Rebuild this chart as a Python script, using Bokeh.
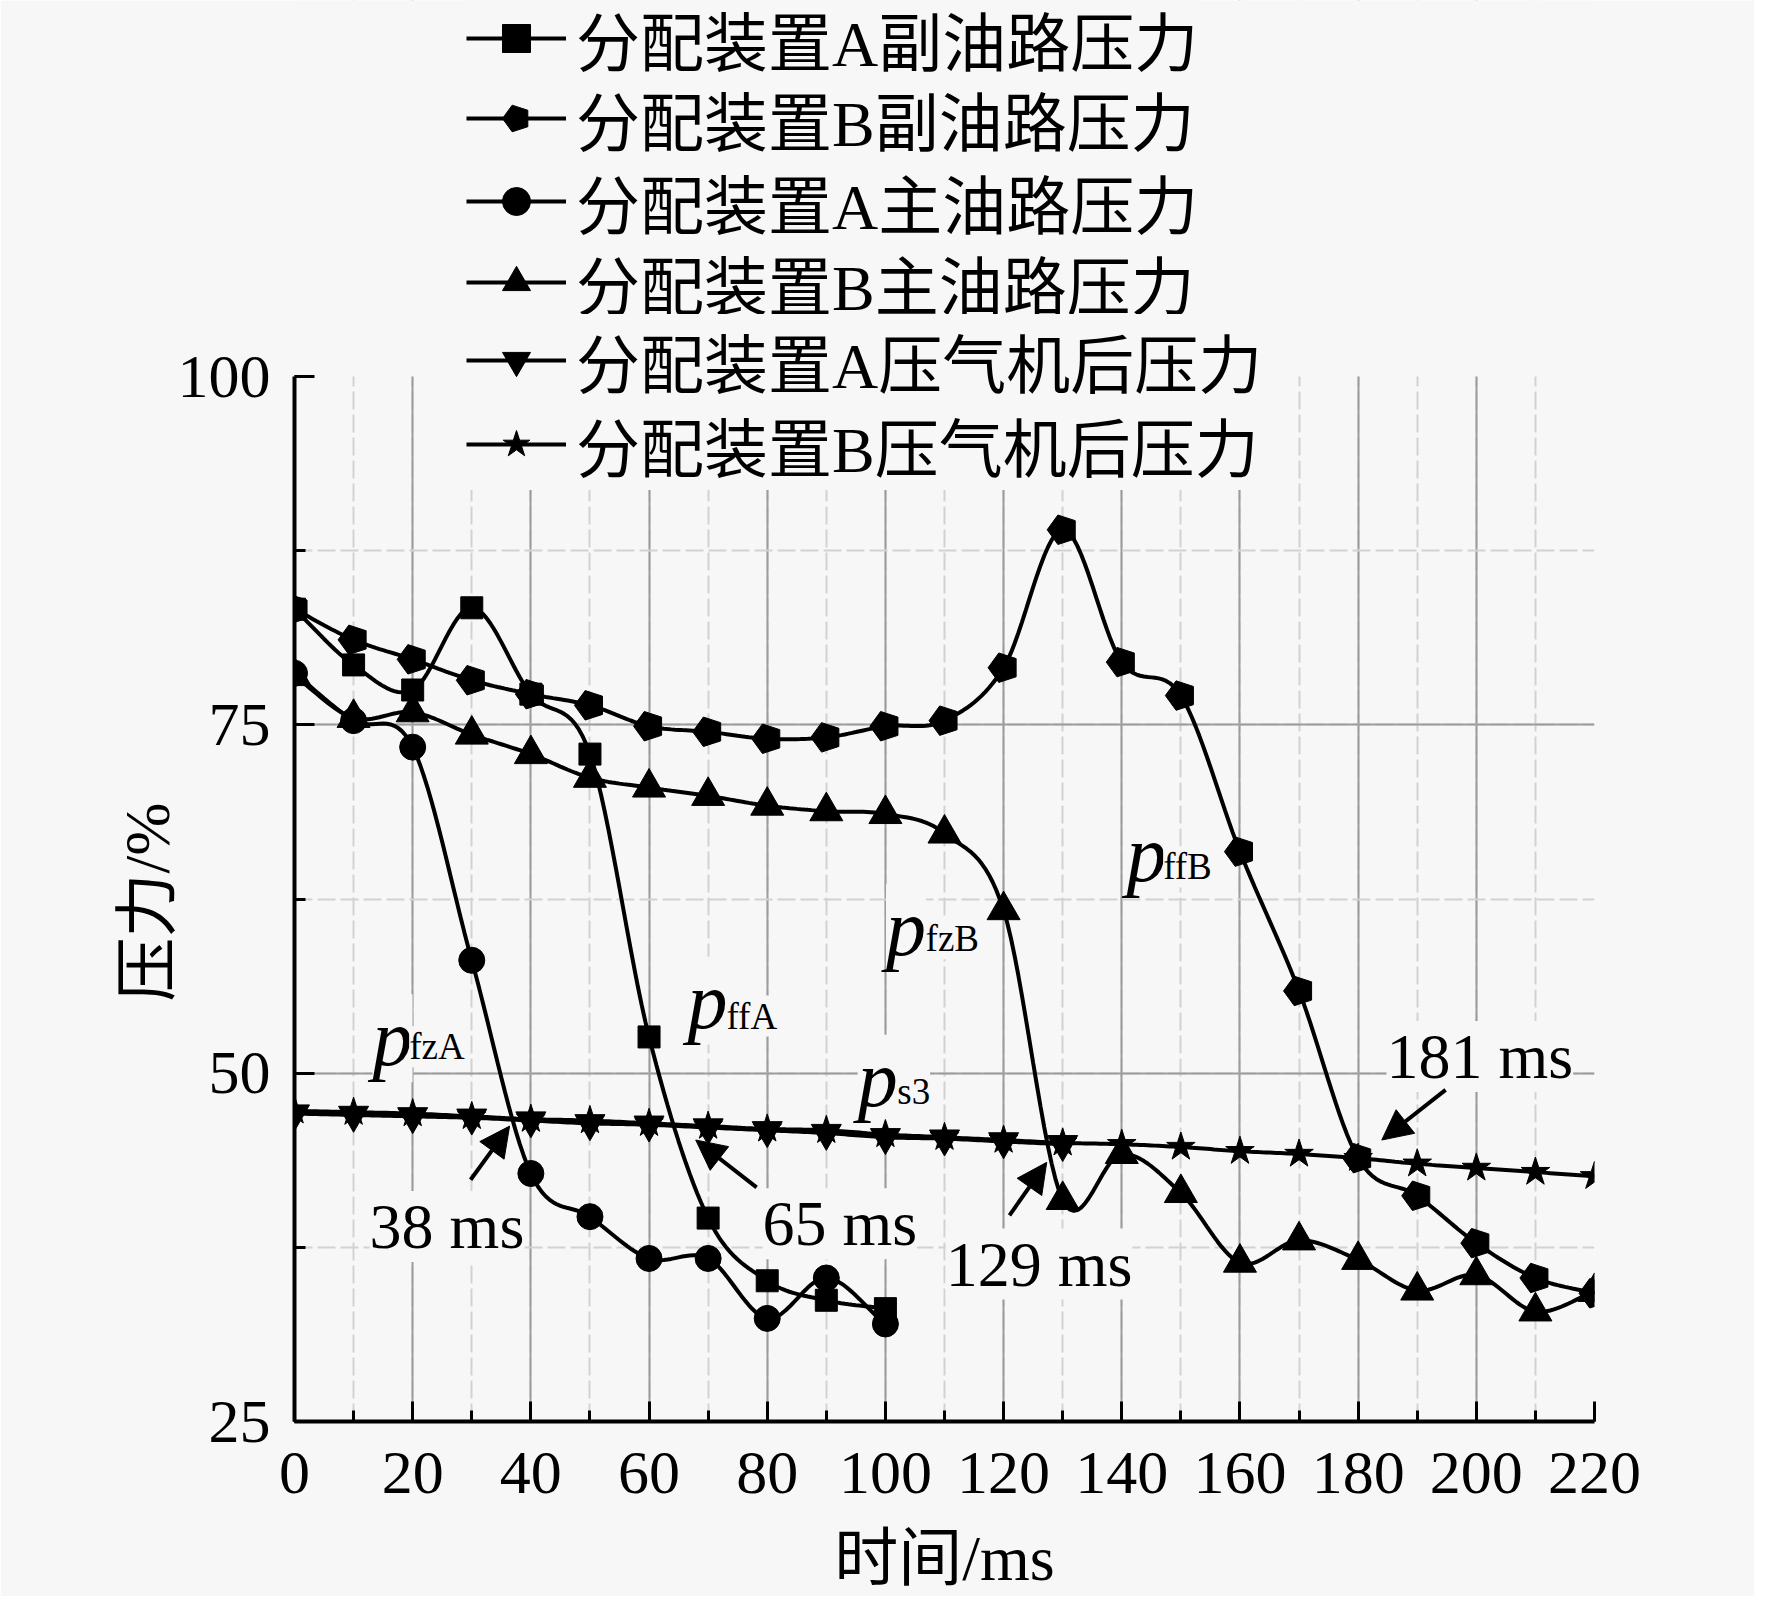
import numpy as np
from bokeh.plotting import figure
from bokeh.models import (Range1d, SingleIntervalTicker, Legend, LegendItem,
                          Label, Arrow, NormalHead, BoxAnnotation, Title)
from bokeh.embed import file_html
from bokeh.resources import INLINE

# ---------------- data ----------------
time_a = [0, 10, 20, 30, 40, 50, 60, 70, 80, 90, 100]
time_b = [0, 10, 20, 30, 40, 50, 60, 70, 80, 90, 100, 110, 120, 130, 140,
          150, 160, 170, 180, 190, 200, 210, 220]
time_ps3_a = [0, 10, 20, 30, 40, 50, 60, 70, 80, 90, 100, 110, 120, 130]

p_ff_a = [83.3, 79.3, 77.5, 83.4, 77.2, 72.9, 52.6, 39.6, 35.1, 33.7, 33.1]
p_ff_b = [83.3, 81.1, 79.7, 78.2, 77.2, 76.4, 74.9, 74.5, 74.0, 74.1, 74.9,
          75.3, 79.1, 89.0, 79.5, 77.1, 65.9, 55.9, 43.9, 41.2, 37.8, 35.3, 34.2]
p_fz_a = [78.7, 75.3, 73.4, 58.1, 42.8, 39.7, 36.7, 36.7, 32.4, 35.3, 32.0]
p_fz_b = [78.5, 75.5, 75.9, 74.3, 72.9, 71.2, 70.5, 69.9, 69.2, 68.8, 68.6,
          67.2, 61.7, 40.9, 44.2, 41.4, 36.4, 38.0, 36.6, 34.4, 35.5, 32.9, 34.3]
p_s3_a = [47.1, 47.0, 46.9, 46.8, 46.6, 46.4, 46.3, 46.1, 45.9, 45.7, 45.4,
          45.3, 45.1, 44.9]
p_s3_b = [47.3, 47.2, 47.1, 46.9, 46.7, 46.6, 46.4, 46.2, 46.0, 45.9, 45.6,
          45.4, 45.2, 45.0, 44.9, 44.7, 44.4, 44.2, 43.9, 43.5, 43.2, 42.9, 42.6]

legend_labels = ["分配装置A副油路压力", "分配装置B副油路压力", "分配装置A主油路压力",
                 "分配装置B主油路压力", "分配装置A压气机后压力", "分配装置B压气机后压力"]

x_ticks_interval = 20
y_ticks_interval = 25
x_min, x_max = 0, 220
y_min, y_max = 25, 100
x_label = "时间/ms"
y_label = "压力/%"

# curve name labels: (subscript, p_x, p_y, sub_x, sub_y)
curve_names = [("fzA", 13.2, 52.5, 19.4, 51.9),
               ("ffA", 66.5, 55.2, 73.1, 54.1),
               ("fzB", 100.1, 60.4, 106.8, 59.65),
               ("ffB", 140.8, 65.75, 147.0, 64.8),
               ("s3", 95.3, 49.6, 102.0, 48.7)]
# time annotations: (text, text_x, text_y, tail_x, tail_y, tip_x, tip_y)
time_notes = [("38 ms", 25.8, 39.0, 29.8, 42.35, 36.4, 46.2),
              ("65 ms", 92.3, 39.2, 78.2, 41.8, 67.9, 45.2),
              ("129 ms", 126.0, 36.3, 121.0, 39.8, 127.3, 43.6),
              ("181 ms", 200.6, 51.2, 194.8, 48.8, 184.0, 45.2)]

BG = "#f7f7f7"
SERIF = "'Liberation Serif', 'Noto Sans CJK SC'"
CJK = "'Liberation Serif', 'Noto Sans CJK SC'"

# layout (pixels)
FRAME_W = 1300
AXIS_H = 1045          # height of the 25..100 part of the frame
TOP_EXTRA = 376        # room above 100 that holds the legend
y_top = y_max + TOP_EXTRA * (y_max - y_min) / AXIS_H
legend_row_px = [46, 126, 209, 290, 368, 452]   # row centres, from the top
LEGEND_ITEM_H = 92


def smooth(x, y, n=16):
    """Cubic Hermite (Catmull-Rom) path through the given points."""
    x = np.asarray(x, float)
    y = np.asarray(y, float)
    m = len(x)
    ty = np.zeros(m)
    ty[1:-1] = (y[2:] - y[:-2]) / 2.0
    ty[0] = y[1] - y[0]
    ty[-1] = y[-1] - y[-2]
    xs, ys = [], []
    t = np.linspace(0, 1, n, endpoint=False)
    h00 = 2 * t**3 - 3 * t**2 + 1
    h10 = t**3 - 2 * t**2 + t
    h01 = -2 * t**3 + 3 * t**2
    h11 = t**3 - t**2
    for i in range(m - 1):
        xs.extend(x[i] + (x[i + 1] - x[i]) * t)
        ys.extend(h00 * y[i] + h10 * ty[i] + h01 * y[i + 1] + h11 * ty[i + 1])
    xs.append(x[-1])
    ys.append(y[-1])
    return xs, ys


p = figure(frame_width=FRAME_W, frame_height=AXIS_H + TOP_EXTRA,
           x_range=Range1d(x_min, x_max), y_range=Range1d(y_min, y_top),
           min_border_left=294, min_border_right=160,
           min_border_top=0, min_border_bottom=170,
           output_backend="svg", toolbar_location=None,
           background_fill_color=BG, border_fill_color=BG)
p.outline_line_color = None

p.xaxis.ticker = SingleIntervalTicker(interval=x_ticks_interval, num_minor_ticks=2)
p.yaxis.ticker = SingleIntervalTicker(interval=y_ticks_interval, num_minor_ticks=2)
p.xgrid.ticker = p.xaxis.ticker
p.ygrid.ticker = p.yaxis.ticker
p.yaxis.bounds = (y_min, y_max)
p.ygrid.bounds = (y_min, y_max - 0.5)

for g in (p.xgrid, p.ygrid):
    g.grid_line_color = "#9c9c9c"
    g.grid_line_width = 2
    g.minor_grid_line_color = "#d2d2d2"
    g.minor_grid_line_width = 2
    g.minor_grid_line_dash = "18 5"

# hide the vertical grid above the 100 level
p.add_layout(BoxAnnotation(bottom=y_max, fill_color=BG, fill_alpha=1.0,
                           line_color=None, level="underlay"))

for ax in (p.xaxis[0], p.yaxis[0]):
    ax.axis_line_width = 4
    ax.axis_line_color = "black"
    ax.major_tick_in = 20
    ax.major_tick_out = 0
    ax.minor_tick_in = 11
    ax.minor_tick_out = 0
    ax.major_tick_line_width = 3
    ax.minor_tick_line_width = 3
    ax.major_tick_line_color = "black"
    ax.minor_tick_line_color = "black"
    ax.major_label_text_font = SERIF
    ax.major_label_text_font_size = "62px"
    ax.major_label_text_color = "black"
    ax.axis_label_text_font = CJK
    ax.axis_label_text_font_size = "64px"
    ax.axis_label_text_font_style = "normal"
    ax.axis_label_text_color = "black"

p.xaxis.axis_label = x_label
p.xaxis.major_label_standoff = 31
p.xaxis.axis_label_standoff = 27
p.yaxis.major_label_standoff = 24

# y-axis title, centred on the 25..100 part of the axis
p.add_layout(Title(text=y_label, align="left", offset=420, standoff=-17,
                   text_font=CJK, text_font_size="64px",
                   text_font_style="normal", text_color="black"), "left")

# curve name labels and time annotations (drawn under the data, over the grid)
for sub, px, py, sx, sy in curve_names:
    p.add_layout(Label(x=px, y=py, text="p", text_font=SERIF,
                       text_font_style="italic", text_font_size="80px",
                       text_color="black",
                       text_align="left", text_baseline="alphabetic",
                       background_fill_color=BG, level="underlay"))
    p.add_layout(Label(x=sx, y=sy, text=sub, text_font=SERIF,
                       text_font_size="37px", text_color="black",
                       text_align="left", text_baseline="alphabetic",
                       background_fill_color=BG, level="underlay"))

for txt, tx, ty, ax0, ay0, ax1, ay1 in time_notes:
    p.add_layout(Label(x=tx, y=ty, text=txt, text_font=SERIF,
                       text_font_size="64px", text_align="center",
                       text_color="black", text_baseline="alphabetic",
                       background_fill_color=BG, level="underlay"))
    p.add_layout(Arrow(x_start=ax0, y_start=ay0, x_end=ax1, y_end=ay1,
                       line_width=4, line_color="black",
                       end=NormalHead(size=30, fill_color="black",
                                      line_color="black")))

LW = 4
series = [
    (time_a, p_ff_a, "square", 22),
    (time_b, p_ff_b, "pentagon", 15.5),
    (time_a, p_fz_a, "circle", 26),
    (time_b, p_fz_b, "triangle", 33),
    (time_ps3_a, p_s3_a, "inverted_triangle", 30),
    (time_b, p_s3_b, "star", 30),
]

frame_total = AXIS_H + TOP_EXTRA
for (xs, ys, marker, size), lab, row in zip(series, legend_labels, legend_row_px):
    sx, sy = smooth(xs, ys)
    lr = p.line(sx, sy, line_color="black", line_width=LW)
    if marker == "pentagon":
        mr = p.ngon(x=xs, y=ys, radius=size, radius_units="screen", n=5,
                    angle=np.pi / 2, fill_color="black", line_color="black")
    else:
        mr = p.scatter(xs, ys, marker=marker, size=size,
                       fill_color="black", line_color="black")
    bottom = frame_total - (row - 8 + LEGEND_ITEM_H / 2)
    leg = Legend(items=[LegendItem(label=lab, renderers=[lr, mr])],
                 location=(172, bottom),
                 glyph_width=100, glyph_height=70, label_height=60,
                 label_standoff=10, spacing=0, padding=0, margin=0,
                 label_text_font=CJK, label_text_font_size="64px",
                 label_text_color="black",
                 border_line_color=None, background_fill_color=BG,
                 background_fill_alpha=1.0)
    p.add_layout(leg)

open("out.html", "w").write(file_html(p, INLINE))
